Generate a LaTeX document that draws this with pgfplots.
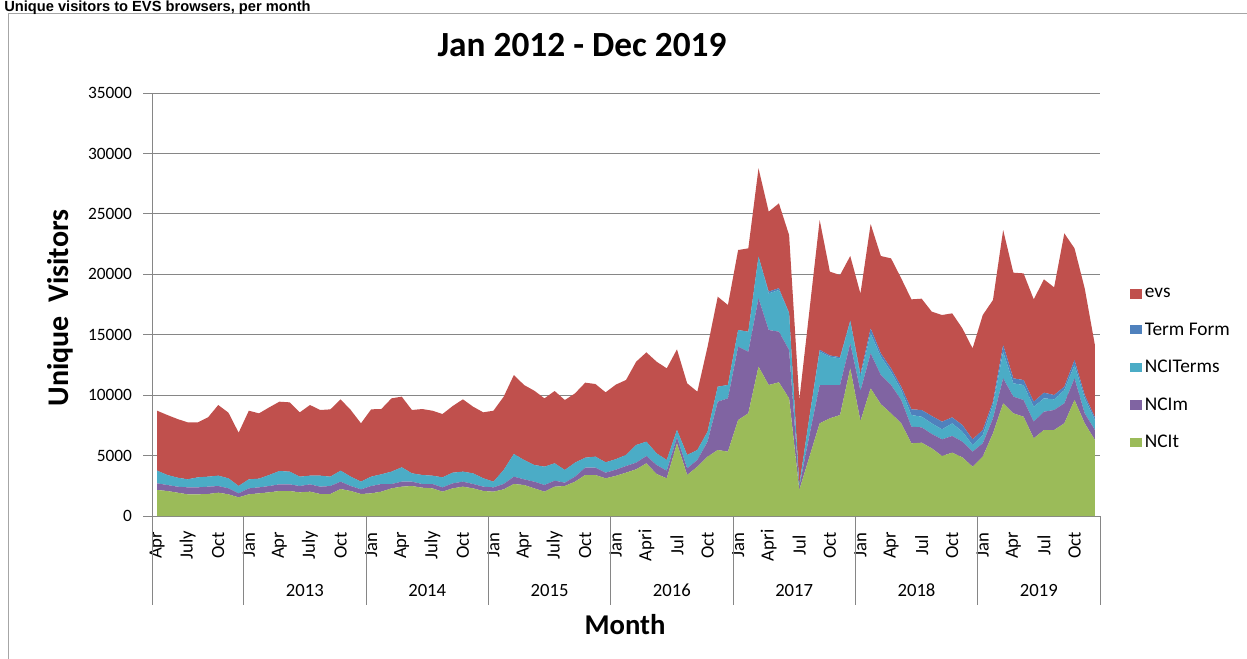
\documentclass[border=0pt]{standalone}
\usepackage{fontspec}
\setmainfont{Carlito}
\newfontfamily\arialfont{Liberation Sans}
\usepackage{pgfplots}
\usepackage{pgfplotstable}
\pgfplotsset{compat=1.18}
\definecolor{cevs}{HTML}{C0504D}
\definecolor{cterm}{HTML}{4F81BD}
\definecolor{cnciterms}{HTML}{4BACC6}
\definecolor{cncim}{HTML}{8064A2}
\definecolor{cncit}{HTML}{9BBB59}
\definecolor{gridc}{HTML}{868686}
\definecolor{framec}{HTML}{A6A6A6}

\pgfplotstableread{
i NCIt NCIm NCITerms TermForm evs
0 2151 552 1048 0 4962
1 2068 497 827 0 4965
2 1930 497 745 0 4854
3 1793 579 662 0 4716
4 1793 579 827 0 4551
5 1820 607 827 0 4910
6 1930 552 855 0 5847
7 1793 496 828 0 5433
8 1544 331 607 0 4412
9 1793 496 745 0 5679
10 1875 497 717 0 5405
11 1958 524 910 0 5598
12 2068 552 1103 0 5737
13 2068 552 1048 0 5737
14 1958 524 772 0 5323
15 2013 607 717 0 5847
16 1820 607 910 0 5433
17 1820 662 772 0 5572
18 2234 607 910 0 5901
19 2068 414 772 0 5516
20 1820 386 635 0 4828
21 1875 607 772 0 5572
22 2013 635 800 0 5407
23 2289 359 1020 0 6068
24 2427 414 1186 0 5847
25 2482 359 689 0 5240
26 2344 304 744 0 5461
27 2289 359 689 0 5378
28 2013 359 827 0 5240
29 2289 414 882 0 5516
30 2427 414 827 0 5985
31 2289 359 882 0 5516
32 2068 359 690 0 5461
33 2013 359 469 0 5874
34 2206 442 1158 0 6068
35 2648 606 1876 0 6536
36 2565 469 1599 0 6206
37 2289 552 1379 0 6150
38 2013 552 1517 0 5654
39 2427 496 1435 0 5985
40 2482 276 1048 0 5792
41 2841 413 1159 0 5736
42 3392 607 827 0 6206
43 3392 607 910 0 6013
44 3117 468 856 0 5791
45 3320 510 870 0 6170
46 3585 552 910 0 6206
47 3861 552 1462 0 6895
48 4358 606 1186 0 7392
49 3475 745 965 0 7585
50 3117 634 882 0 7585
51 6013 496 607 0 6674
52 3392 552 1103 0 5930
53 4082 551 828 0 4826
54 4909 1241 827 0 7023
55 5461 3999 1241 0 7447
56 5323 4413 1103 0 6619
57 7943 6068 1379 0 6619
58 8494 5103 1655 0 6895
59 12356 5654 3447 0 7309
60 10839 4551 3033 150 6608
61 11060 4192 3447 150 7021
62 9736 3999 3034 50 6431
63 2151 276 138 0 7033
64 4909 1793 1517 0 8825
65 7667 3172 2758 150 10744
66 8081 2758 2344 100 6933
67 8357 2482 2206 100 6795
68 12218 2069 1792 100 5333
69 7850 2500 1150 250 6650
70 10563 2896 1655 414 8632
71 9250 2416 1517 276 8053
72 8494 2345 1103 276 9101
73 7667 1931 827 276 8964
74 6013 1378 966 469 9101
75 6067 1269 883 551 9212
76 5599 1186 882 607 8633
77 4964 1379 828 634 8826
78 5240 1379 1048 497 8605
79 4854 1296 828 551 7999
80 4082 1241 552 468 7530
81 4909 1104 689 414 9515
82 6840 1241 1103 276 8412
83 9322 2068 2207 552 9515
84 8494 1380 1103 413 8743
85 8219 1379 1241 414 8825
86 6426 1379 1241 414 8467
87 7116 1516 1104 469 9377
88 7116 1654 883 359 8908
89 7667 1655 1103 276 12687
90 9598 1792 1104 414 9239
91 7667 827 1242 276 8825
92 6288 828 827 221 5985
}\datatable

\begin{document}
\begin{tikzpicture}
\begin{axis}[
  at={(114pt,-387pt)}, anchor=south west,
  scale only axis, width=711pt, height=317.25pt,
  xmin=-0.5, xmax=92.5, ymin=0, ymax=35000,
  axis lines*=left,
  axis line style={gridc, line width=0.75pt},
  ymajorgrids, grid style={gridc, line width=0.75pt},
  ytick={0,5000,...,35000},
  scaled y ticks=false,
  /pgf/number format/assume math mode=true,
  yticklabel style={/pgf/number format/1000 sep={}, font=\fontsize{13}{15}\selectfont},
  yticklabel shift=5pt,
  ytick align=outside,
  major tick length=6.5pt,
  ytick style={gridc, line width=0.75pt},
  xtick={0,3,...,90},
  xticklabels={Apr,July,Oct,Jan,Apr,July,Oct,Jan,Apr,July,Oct,Jan,Apr,July,Oct,Jan,Apri,Jul,Oct,Jan,Apri,Jul,Oct,Jan,Apr,Jul,Oct,Jan,Apr,Jul,Oct},
  xtick style={draw=none},
  xticklabel style={rotate=90, anchor=center, font=\fontsize{14}{16}\selectfont},
  xticklabel shift=22pt,
  stack plots=y,
  reverse legend,
  legend image code/.code={\fill[#1] (0pt,-3.5pt) rectangle (9pt,3.5pt);},
  legend style={at={(1.0316,0.3475)}, anchor=west, draw=none, fill=none,
    inner sep=0pt, font=\fontsize{14.5}{16}\selectfont, row sep=13.3pt,
    legend cell align=left},
  clip=false,
]
\addplot[fill=cncit, draw=none] table[x=i, y=NCIt] {\datatable} \closedcycle;
\addlegendentry{NCIt}
\addplot[fill=cncim, draw=none] table[x=i, y=NCIm] {\datatable} \closedcycle;
\addlegendentry{NCIm}
\addplot[fill=cnciterms, draw=none] table[x=i, y=NCITerms] {\datatable} \closedcycle;
\addlegendentry{NCITerms}
\addplot[fill=cterm, draw=none] table[x=i, y=TermForm] {\datatable} \closedcycle;
\addlegendentry{Term\ Form}
\addplot[fill=cevs, draw=none] table[x=i, y=evs] {\datatable} \closedcycle;
\addlegendentry{evs}
\pgfplotsinvokeforeach{-0.5,8.5,20.5,32.5,44.5,56.5,68.5,80.5,92.5}{
  \draw[gridc, line width=0.75pt] (axis cs:#1,0) -- ++(0pt,-66.75pt);
}
\node[font=\fontsize{14}{16}\selectfont] at (axis cs:14.5,0) [yshift=-55.5pt] {2013};
\node[font=\fontsize{14}{16}\selectfont] at (axis cs:26.5,0) [yshift=-55.5pt] {2014};
\node[font=\fontsize{14}{16}\selectfont] at (axis cs:38.5,0) [yshift=-55.5pt] {2015};
\node[font=\fontsize{14}{16}\selectfont] at (axis cs:50.5,0) [yshift=-55.5pt] {2016};
\node[font=\fontsize{14}{16}\selectfont] at (axis cs:62.5,0) [yshift=-55.5pt] {2017};
\node[font=\fontsize{14}{16}\selectfont] at (axis cs:74.5,0) [yshift=-55.5pt] {2018};
\node[font=\fontsize{14}{16}\selectfont] at (axis cs:86.5,0) [yshift=-55.5pt] {2019};
\end{axis}
\begin{scope}[x=0.75pt,y=-0.75pt]
\draw[framec, line width=0.75pt] (8.5,13) rectangle (1262,672);
\node[anchor=base west, inner sep=0pt, font=\arialfont\bfseries\fontsize{11}{13}\selectfont] at (4,11) {Unique visitors to EVS browsers, per month};
\node[font=\bfseries\fontsize{26.5}{30}\selectfont] at (582,45) {Jan 2012 - Dec 2019};
\node[font=\bfseries\fontsize{22.5}{26}\selectfont, rotate=90] at (60,308) {Unique\ \ Visitors};
\node[font=\bfseries\fontsize{21.5}{25}\selectfont] at (625,625) {Month};
\pgfresetboundingbox
\path[use as bounding box] (0,0) rectangle (1247,658);
\end{scope}
\end{tikzpicture}
\end{document}
